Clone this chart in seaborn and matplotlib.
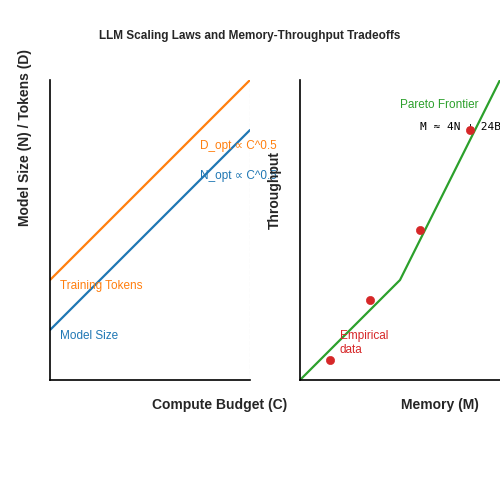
import matplotlib
matplotlib.use("Agg")
import matplotlib.pyplot as plt
import seaborn as sns
import numpy as np

sns.set_style("white")
plt.rcParams['font.family'] = ['Liberation Sans', 'DejaVu Sans']

compute = [0, 4]
tokens_d = [2, 6]
model_n = [1, 5]
mem_frontier = [0, 2, 4]
thr_frontier = [0, 2, 6]
mem_emp = [0.6, 1.4, 2.4, 3.4]
thr_emp = [0.4, 1.6, 3.0, 5.0]

orange, blue, green, red = "#ff7f0e", "#1f77b4", "#2ca02c", "#d62728"

fig = plt.figure(figsize=(5, 5), dpi=100)
ax1 = fig.add_axes([0.1, 0.24, 0.4, 0.6])
ax2 = fig.add_axes([0.6, 0.24, 0.4, 0.6])

sns.lineplot(x=compute, y=tokens_d, ax=ax1, color=orange, lw=1.6)
sns.lineplot(x=compute, y=model_n, ax=ax1, color=blue, lw=1.6)
ax1.axvline(4, color="#cccccc", ls="--", lw=0.8)
ax1.set_xlim(0, 4); ax1.set_ylim(0, 6)
ax1.text(0.2, 1.88, "Training Tokens", color=orange, fontsize=8.5, va="center")
ax1.text(0.2, 0.88, "Model Size", color=blue, fontsize=8.5, va="center")
ax1.text(3.0, 4.68, "D_opt ∝ C^0.5", color=orange, fontsize=8.5, va="center", clip_on=False)
ax1.text(3.0, 4.08, "N_opt ∝ C^0.5", color=blue, fontsize=8.5, va="center", clip_on=False)

sns.lineplot(x=mem_frontier, y=thr_frontier, ax=ax2, color=green, lw=1.6)
sns.scatterplot(x=mem_emp, y=thr_emp, ax=ax2, color=red, s=35, edgecolor=red, zorder=5)
ax2.set_xlim(0, 4); ax2.set_ylim(0, 6)
ax2.text(2.0, 5.5, "Pareto Frontier", color=green, fontsize=8.5, va="center")
ax2.text(2.4, 5.06, "M ≈ 4N + 24B", color="black", fontsize=8, va="center",
         family="DejaVu Sans Mono", clip_on=False)
ax2.text(0.8, 0.74, "Empirical\ndata", color=red, fontsize=8.5, va="center")

for ax in (ax1, ax2):
    ax.set_xticks([]); ax.set_yticks([])
    ax.set_xlabel(""); ax.set_ylabel("")
    sns.despine(ax=ax)
    ax.spines["left"].set_linewidth(1.2)
    ax.spines["bottom"].set_linewidth(1.2)
    ax.spines["left"].set_color("black")
    ax.spines["bottom"].set_color("black")

fig.text(0.5, 0.928, "LLM Scaling Laws and Memory-Throughput Tradeoffs",
         ha="center", va="center", fontsize=8.5, fontweight="bold")
fig.text(0.44, 0.19, "Compute Budget (C)", ha="center", va="center", fontsize=10, fontweight="bold")
fig.text(0.88, 0.19, "Memory (M)", ha="center", va="center", fontsize=10, fontweight="bold")
fig.text(0.05, 0.725, "Model Size (N) / Tokens (D)", ha="center", va="center",
         rotation=90, fontsize=10, fontweight="bold")
fig.text(0.55, 0.62, "Throughput", ha="center", va="center",
         rotation=90, fontsize=10, fontweight="bold")

fig.savefig("out.png", dpi=100)
